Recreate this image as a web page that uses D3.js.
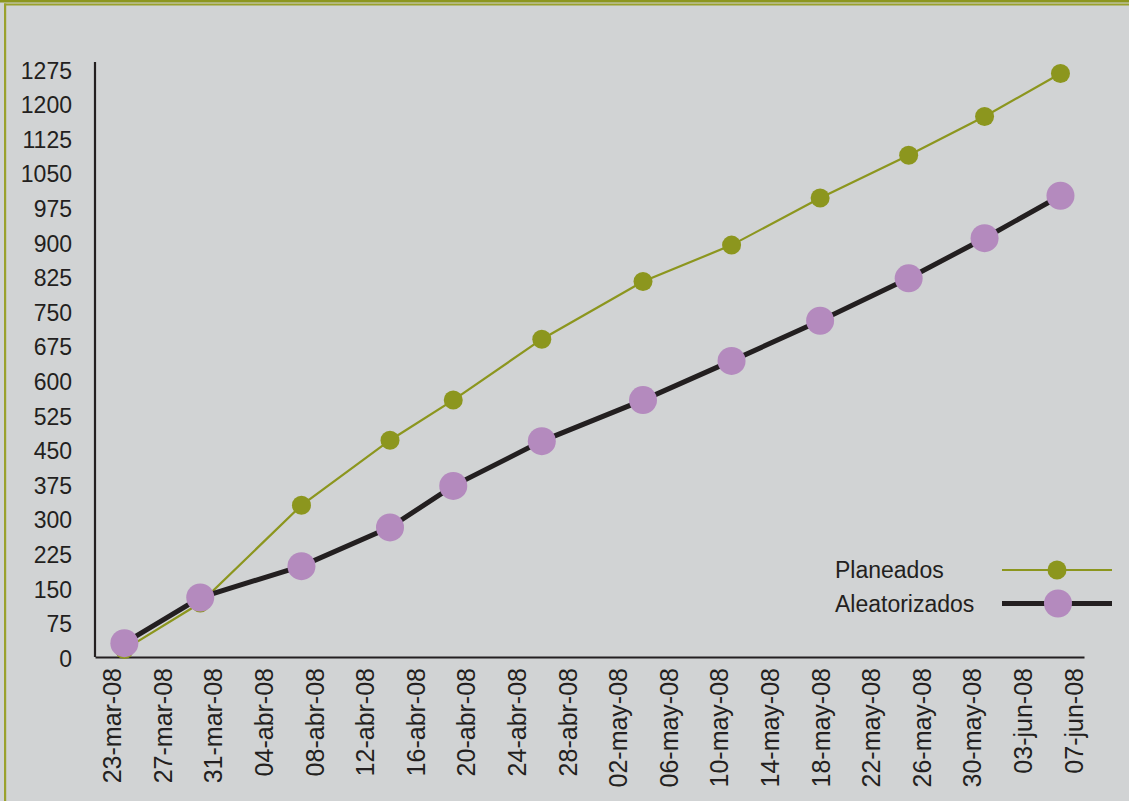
<!DOCTYPE html>
<html>
<head>
<meta charset="utf-8">
<script src="https://cdn.jsdelivr.net/npm/d3@7"></script>
<style>
    body { margin: 0; background: #d1d3d4; }
    svg { display: block; }
    text { font-family: "Liberation Sans", Arial, sans-serif; fill: #231f20; }
</style>
</head>
<body>
<div id="chart"></div>
<script>

// Data
var fechas = ["2008-03-24", "2008-03-30", "2008-04-07", "2008-04-14", "2008-04-19", "2008-04-26",
              "2008-05-04", "2008-05-11", "2008-05-18", "2008-05-25", "2008-05-31", "2008-06-06"];
var planeados = [16, 117, 329, 470, 557, 689, 814, 893, 995, 1088, 1172, 1265];
var aleatorizados = [30, 129, 197, 281, 371, 468, 557, 642, 729, 821, 908, 1000];
var series = ["Planeados", "Aleatorizados"];

// Axis ticks
var yTicks = [0, 75, 150, 225, 300, 375, 450, 525, 600, 675, 750, 825, 900, 975, 1050, 1125, 1200, 1275];
var xFirstTick = "2008-03-23";
var xLastTick = "2008-06-07";
var xTickStep = 4; // days
var meses = ["ene", "feb", "mar", "abr", "may", "jun", "jul", "ago", "sep", "oct", "nov", "dic"];

var width = 1129, height = 801;
var olive = "#8c961e", purple = "#b48abe", dark = "#231f20";

var parse = d3.timeParse("%Y-%m-%d");
var fmt2 = d3.format("02d");
function etiqueta(d) {
    return fmt2(d.getDate()) + "-" + meses[d.getMonth()] + "-" + fmt2(d.getFullYear() % 100);
}

var first = parse(xFirstTick), last = parse(xLastTick);
var xTickDates = d3.range(0, d3.timeDay.count(first, last) + 1, xTickStep)
    .map(function(n) { return d3.timeDay.offset(first, n); });

var svg = d3.select("#chart").append("svg")
    .attr("width", width)
    .attr("height", height);

// background and frame
svg.append("rect").attr("width", width).attr("height", height).attr("fill", "#d1d3d4");
svg.append("rect").attr("x", 0).attr("y", 0).attr("width", width).attr("height", 2.5).attr("fill", olive);
svg.append("rect").attr("x", 4).attr("y", 3.5).attr("width", width - 4).attr("height", 2).attr("fill", "#9aa12c");
svg.append("rect").attr("x", 4).attr("y", 3.5).attr("width", 2.2).attr("height", height).attr("fill", "#9aa12c");

// scales
var x = d3.scaleTime()
    .domain([new Date(first.getTime() - 1.32 * 864e5), new Date(last.getTime() + 0.86 * 864e5)])
    .range([95, 1084]);
var y = d3.scaleLinear().domain([0, 1290]).range([657, 62]);

// y axis
var yAxis = svg.append("g")
    .attr("transform", "translate(95,0)")
    .call(d3.axisLeft(y).tickValues(yTicks).tickFormat(d3.format("d")).tickSize(0).tickPadding(23));
yAxis.select(".domain").remove();
yAxis.selectAll("text")
    .attr("font-size", 23)
    .attr("font-family", "Liberation Sans, Arial, sans-serif")
    .attr("fill", dark)
    .attr("dy", "0.4em");

svg.append("line")
    .attr("x1", 95).attr("x2", 95)
    .attr("y1", y.range()[1]).attr("y2", y(0))
    .attr("stroke", dark).attr("stroke-width", 2.2);

// x axis
var xAxis = svg.append("g")
    .attr("transform", "translate(0," + y(0) + ")")
    .call(d3.axisBottom(x).tickValues(xTickDates).tickFormat(etiqueta).tickSize(0));
xAxis.select(".domain")
    .attr("stroke", dark)
    .attr("stroke-width", 2.2);
xAxis.selectAll("text")
    .attr("font-size", 25)
    .attr("font-family", "Liberation Sans, Arial, sans-serif")
    .attr("fill", dark)
    .attr("text-anchor", "end")
    .attr("transform", "rotate(-90)")
    .attr("x", -11)
    .attr("y", 0)
    .attr("dy", "0.36em");

var fechasD = fechas.map(parse);
var line = d3.line()
    .x(function(d) { return x(d[0]); })
    .y(function(d) { return y(d[1]); });

var datPlan = d3.zip(fechasD, planeados);
var datAle = d3.zip(fechasD, aleatorizados);

// Planeados
svg.append("path")
    .datum(datPlan)
    .attr("d", line)
    .attr("fill", "none")
    .attr("stroke", olive)
    .attr("stroke-width", 2.2);
svg.append("g").selectAll("circle")
    .data(datPlan)
    .join("circle")
    .attr("cx", function(d) { return x(d[0]); })
    .attr("cy", function(d) { return y(d[1]); })
    .attr("r", 9.5)
    .attr("fill", olive);

// Aleatorizados
svg.append("path")
    .datum(datAle)
    .attr("d", line)
    .attr("fill", "none")
    .attr("stroke", dark)
    .attr("stroke-width", 5);
svg.append("g").selectAll("circle")
    .data(datAle)
    .join("circle")
    .attr("cx", function(d) { return x(d[0]); })
    .attr("cy", function(d) { return y(d[1]); })
    .attr("r", 14)
    .attr("fill", purple);

// legend
var legend = svg.append("g").attr("transform", "translate(835,570)");
var legRows = legend.selectAll("g")
    .data(series)
    .join("g")
    .attr("transform", function(d, i) { return "translate(0," + (i * 33.5) + ")"; });

legRows.append("text")
    .attr("font-size", 23)
    .attr("dy", "0.36em")
    .text(function(d) { return d; });
legRows.append("line")
    .attr("x1", 167).attr("x2", 277)
    .attr("stroke", function(d, i) { return i === 0 ? olive : dark; })
    .attr("stroke-width", function(d, i) { return i === 0 ? 2.2 : 5; });
legRows.append("circle")
    .attr("cx", function(d, i) { return i === 0 ? 222 : 223; })
    .attr("r", function(d, i) { return i === 0 ? 9.5 : 14; })
    .attr("fill", function(d, i) { return i === 0 ? olive : purple; });

</script>
</body>
</html>
